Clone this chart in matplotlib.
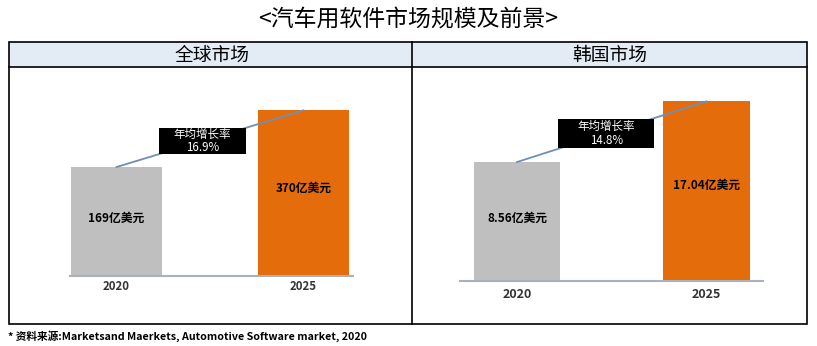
import matplotlib
matplotlib.use("Agg")
import matplotlib.pyplot as plt
from matplotlib.patches import Rectangle

plt.rcParams['font.family'] = ['Noto Sans CJK SC', 'DejaVu Sans']

# ---- data ----
title = "<汽车用软件市场规模及前景>"
panel_titles = ["全球市场", "韩国市场"]
years = ["2020", "2025"]
# drawn bar heights (relative; original chart is not to scale)
global_heights = [100, 152]
korea_heights = [100, 151]
global_labels = ["169亿美元", "370亿美元"]
korea_labels = ["8.56亿美元", "17.04亿美元"]
cagr_title = "年均增长率"
global_cagr = "16.9%"
korea_cagr = "14.8%"
footnote = "* 资料来源:Marketsand Maerkets, Automotive Software market, 2020"

bar_colors = ["#bfbfbf", "#e46c0a"]
line_color = "#6f8fb3"
base_color = "#a9b1ba"

W, H = 817, 346
fig = plt.figure(figsize=(W / 100, H / 100), dpi=100)

# background layer in pixel coordinates
bg = fig.add_axes([0, 0, 1, 1])
bg.set_xlim(0, W)
bg.set_ylim(H, 0)
bg.axis("off")

bg.text(W / 2, 20, title, ha="center", va="center", fontsize=16.5)
# table
bg.add_patch(Rectangle((9, 42), 798, 25, facecolor="#e3ebf5", edgecolor="none"))
bg.add_patch(Rectangle((9, 42), 798, 282, facecolor="none", edgecolor="black", lw=1.2))
bg.plot([9, 807], [67, 67], color="black", lw=1.2)
bg.plot([412, 412], [42, 324], color="black", lw=1.2)
bg.text(212, 55, panel_titles[0], ha="center", va="center", fontsize=13.5)
bg.text(610, 55, panel_titles[1], ha="center", va="center", fontsize=13.5)
bg.text(8, 336, footnote, ha="left", va="center", fontsize=7.7, fontweight="bold")


def px_axes(x0, x1, ybot, ytop):
    return fig.add_axes([x0 / W, 1 - ybot / H, (x1 - x0) / W, (ybot - ytop) / H])


def draw_panel(ax, heights, labels, cagr, xlim, ylim, box, width, tick_pad, fs_tick):
    x = [0, 1]
    ax.bar(x, heights, width=width, color=bar_colors, zorder=2)
    ax.set_xlim(*xlim)
    ax.set_ylim(*ylim)
    for s in ["top", "right", "left"]:
        ax.spines[s].set_visible(False)
    ax.spines["bottom"].set_color(base_color)
    ax.spines["bottom"].set_linewidth(1.5)
    ax.set_yticks([])
    ax.set_xticks(x)
    ax.set_xticklabels(years, fontsize=fs_tick, fontweight="bold", color="#333333")
    ax.tick_params(axis="x", length=0, pad=tick_pad)
    ax.patch.set_alpha(0)
    for xi, h, lab in zip(x, heights, labels):
        ax.text(xi, h * 0.53, lab, ha="center", va="center", fontsize=8.5,
                fontweight="bold", color="black", zorder=4)
    ax.plot(x, heights, color=line_color, lw=1.3, zorder=3, clip_on=False)
    bx, by, bw, bh = box
    ax.add_patch(Rectangle((bx - bw / 2, by - bh / 2), bw, bh, facecolor="black",
                           edgecolor="none", zorder=5))
    ax.text(bx, by, cagr_title + "\n" + cagr, ha="center", va="center", color="white",
            fontsize=8.3, linespacing=1.05, zorder=6)


axL = px_axes(70, 353, 276, 100)
draw_panel(axL, global_heights, global_labels, global_cagr,
           (-0.249, 1.265), (0, 161.5), (0.46, 124, 0.465, 24), 0.49, 3, 8.2)

axR = px_axes(460, 763, 281, 91)
draw_panel(axR, korea_heights, korea_labels, korea_cagr,
           (-0.301, 1.298), (0, 159.7), (0.47, 124, 0.507, 24.4), 0.455, 5, 9)

fig.savefig("out.png", dpi=100)
